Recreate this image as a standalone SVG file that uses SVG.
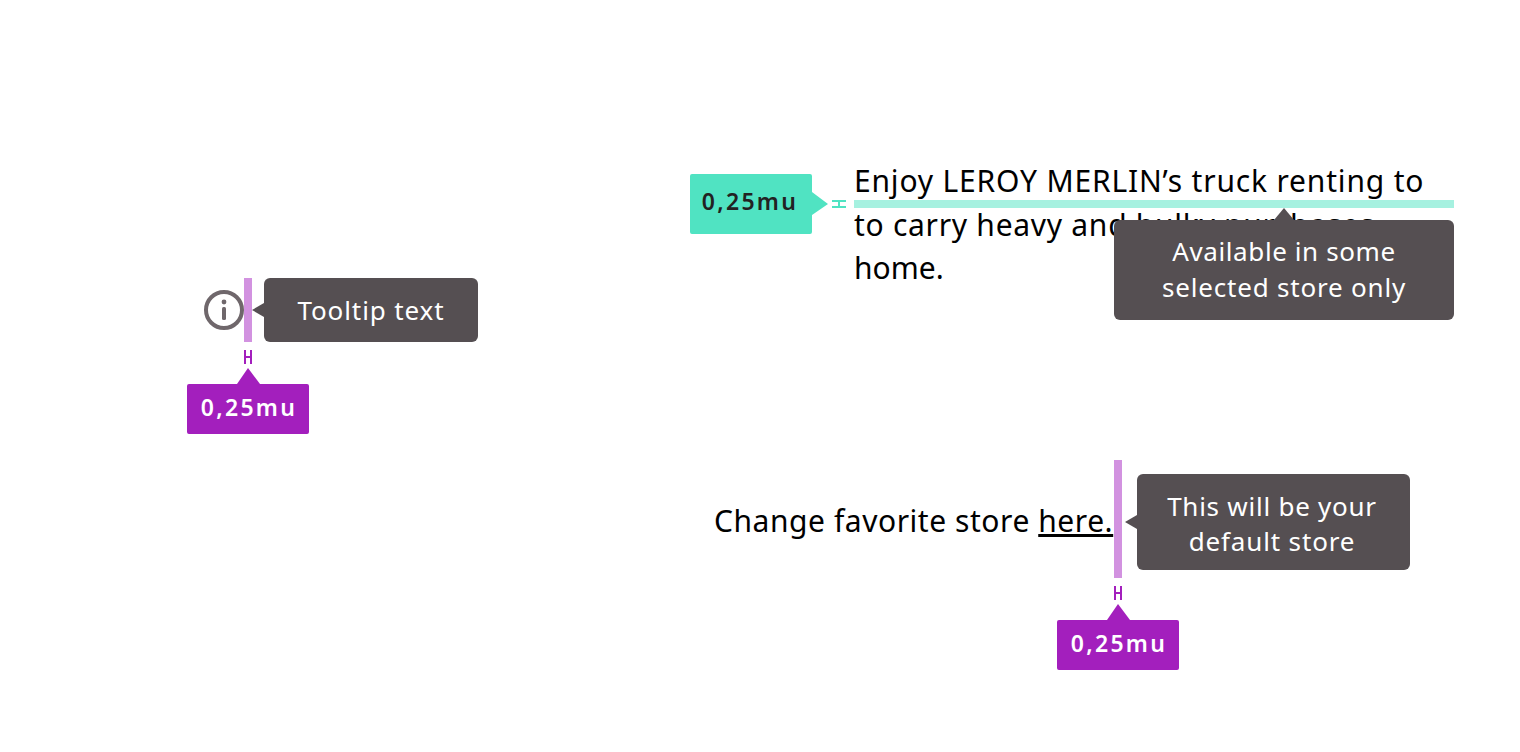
<svg xmlns="http://www.w3.org/2000/svg" width="1520" height="752" viewBox="0 0 1520 752">
<style>
text{font-family:"Noto Sans","Open Sans","Liberation Sans",sans-serif}
.body{font-size:30px;fill:#000}
.tip{font-size:26px;fill:#fff;text-anchor:middle}
.tipbg{fill:#554f52}
.badge{font-size:23px;font-weight:600;letter-spacing:2.300px;text-anchor:middle}
.pur{fill:#a31fbd}
.purl{fill:#d292e0}
.grn{fill:#50e3c2}
.grnl{fill:#a6f1e0}
.hm{stroke-width:2;fill:none}
</style>
<rect width="1520" height="752" fill="#fff"/>
<g id="connectors">
<rect class="purl" x="244" y="278" width="8" height="64"/>
<path class="hm" stroke="#a31fbd" d="M245 350v14M251 350v14M245 357h6"/>
<rect class="grnl" x="854" y="200" width="600" height="8"/>
<path class="hm" stroke="#50e3c2" d="M832 201h14M832 207h14M839 201v6"/>
<rect class="purl" x="1114" y="460" width="8" height="118"/>
<path class="hm" stroke="#a31fbd" d="M1115 586v14M1121 586v14M1115 593h6"/>
</g>
<g id="info-icon">
<circle cx="224" cy="310" r="18" fill="#fff" stroke="#6f676b" stroke-width="4"/>
<circle cx="224" cy="302" r="2.400" fill="#6f676b"/>
<rect x="222" y="307" width="4" height="13" rx="1.500" fill="#6f676b"/>
</g>
<g id="tooltip-left">
<path class="tipbg" d="M264 303L252 310L264 317Z"/>
<rect class="tipbg" x="264" y="278" width="214" height="64" rx="6"/>
<text class="tip" x="371" y="320" letter-spacing="0.900">Tooltip text</text>
</g>
<g id="badge-left">
<path class="pur" d="M187 386q0-2 2-2h48l11-16 12 16h47q2 0 2 2v46q0 2-2 2h-118q-2 0-2-2z"/>
<text class="badge" x="249" y="416" fill="#fff">0,25mu</text>
</g>
<g id="badge-green">
<path class="grn" d="M690 176q0-2 2-2h118q2 0 2 2v16l16 12-16 11v17q0 2-2 2h-118q-2 0-2-2z"/>
<text class="badge" x="750" y="210" fill="#222">0,25mu</text>
</g>
<g id="paragraph">
<text class="body" x="854" y="192" letter-spacing="0.820">Enjoy LEROY MERLIN’s truck renting to</text>
<text class="body" x="854" y="236" letter-spacing="0.720">to carry heavy and bulky purchases</text>
<text class="body" x="854" y="279">home.</text>
</g>
<g id="tooltip-top">
<path class="tipbg" d="M1274 220L1284 208L1294 220Z"/>
<rect class="tipbg" x="1114" y="220" width="340" height="100" rx="6"/>
<text class="tip" x="1284" y="261" letter-spacing="0.600">Available in some</text>
<text class="tip" x="1284" y="297" letter-spacing="0.800">selected store only</text>
</g>
<g id="link-text">
<text class="body" x="714" y="532" letter-spacing="0.550">Change favorite store <tspan text-decoration="underline">here.</tspan></text>
</g>
<g id="tooltip-right">
<path class="tipbg" d="M1137 515L1125 522L1137 529Z"/>
<rect class="tipbg" x="1137" y="474" width="273" height="96" rx="6"/>
<text class="tip" x="1272" y="516" letter-spacing="0.750">This will be your</text>
<text class="tip" x="1272" y="551" letter-spacing="0.850">default store</text>
</g>
<g id="badge-right">
<path class="pur" d="M1057 622q0-2 2-2h48l11-16 12 16h47q2 0 2 2v46q0 2-2 2h-118q-2 0-2-2z"/>
<text class="badge" x="1119" y="652" fill="#fff">0,25mu</text>
</g>
</svg>
